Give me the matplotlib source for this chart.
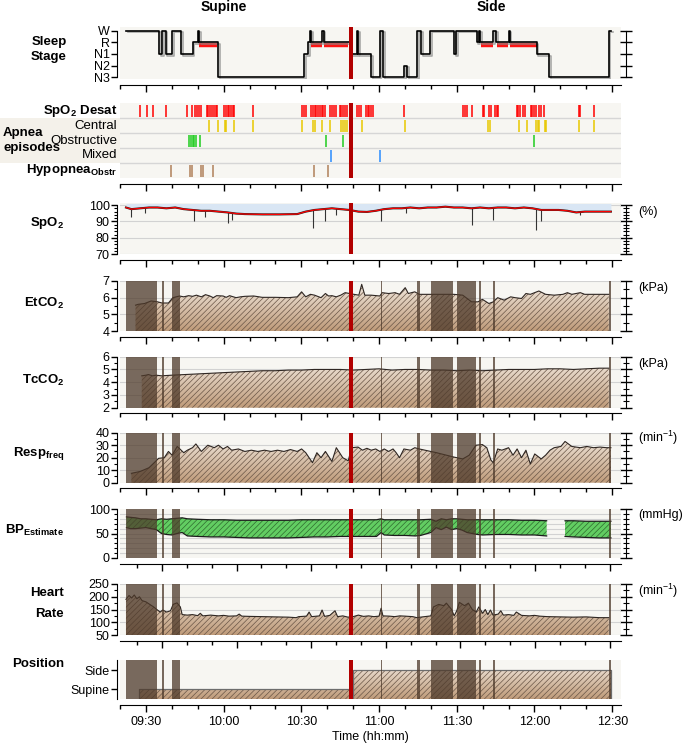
import numpy as np
import matplotlib.pyplot as plt
from matplotlib.colors import LinearSegmentedColormap
from matplotlib.path import Path
from matplotlib.patches import Rectangle
import matplotlib.patheffects as pe

plt.rcParams['font.family'] = ['Liberation Sans', 'DejaVu Sans']
plt.rcParams['mathtext.fontset'] = 'custom'
plt.rcParams['mathtext.rm'] = 'Liberation Sans'
plt.rcParams['mathtext.bf'] = 'Liberation Sans:bold'
plt.rcParams['mathtext.it'] = 'Liberation Sans:italic'
plt.rcParams['hatch.linewidth'] = 0.5

# ---- data (time = minutes after 09:00) ----
sleep_t = [22.3, 35.0, 36.2, 37.6, 40.1, 43.5, 48.0, 50.0, 50.5, 57.8, 91.2, 92.6, 93.4, 93.8,
           98.1, 98.6, 109.1, 111.6, 112.0, 117.0, 120.3, 121.7, 129.6, 130.8, 134.6, 136.3,
           139.7, 148.9, 149.8, 157.7, 158.5, 159.0, 164.1, 165.3, 170.0, 170.4, 180.9, 185.6,
           208.7, 209.5]
sleep_stage = [4, 2, 4, 2, 4, 2, 3, 4, 3, 0, 2, 3, 4, 3, 4, 3, 2, 4, 2, 0, 4, 0, 1, 0, 4, 2,
               4, 2, 4, 3, 4, 3, 4, 3, 4, 3, 2, 0, 4, 4]
stage_names = ['N3', 'N2', 'N1', 'R', 'W']
rem_red = [(50.5, 57.6), (93.8, 98.1), (98.6, 108.1), (159.5, 164.1), (165.5, 169.7), (170.4, 180.9)]

desat_t = [27.8, 30.3, 32.9, 37.6, 46.0, 47.7, 48.8, 49.7, 50.5, 51.4, 53.4, 54.1, 54.7, 55.4,
           56.1, 56.9, 57.6, 60.1, 60.8, 61.5, 62.1, 62.8, 63.5, 64.2, 71.2, 90.4, 91.2, 91.7,
           93.8, 94.4, 95.1, 95.8, 96.5, 97.1, 97.8, 98.5, 99.3, 101.2, 101.8, 102.7, 103.5,
           104.9, 105.5, 106.2, 106.9, 107.7, 111.6, 112.3, 112.9, 115.0, 115.6, 116.3, 117.0,
           117.5, 129.6, 152.6, 153.3, 154.0, 156.0, 160.0, 160.7, 162.4, 163.1, 164.6, 165.4,
           166.1, 173.2, 173.8, 174.5, 175.5, 176.5, 178.6, 179.2, 179.9, 180.6, 181.6, 182.6,
           183.6, 197.1, 197.7, 203.1]
central_t = [54.4, 57.8, 60.5, 61.1, 64.0, 71.2, 90.1, 94.4, 95.4, 97.8, 101.0, 105.2, 106.0,
             106.9, 107.7, 113.3, 130.1, 162.1, 162.7, 174.2, 177.2, 180.6, 181.2, 181.9, 183.9,
             184.6, 197.1, 203.1]
obstructive_t = [46.7, 47.3, 48.0, 48.7, 49.3, 50.7, 99.5, 105.9, 179.7]
mixed_t = [101.3, 120.3]
hypopnea_t = [39.6, 47.0, 47.7, 51.4, 52.1, 55.9, 94.8, 100.2]

artifact_spans = [(22.3, 34.2), (36.2, 36.9), (40.1, 43.3), (120.6, 121.0), (134.6, 135.8),
                  (140.2, 148.4), (150.1, 157.4), (158.5, 159.4), (164.1, 164.9), (208.7, 209.5)]
marker_span = (108.4, 109.8)

spo2_t = [22.3, 24.4, 27.8, 31.2, 34.5, 37.9, 41.3, 44.6, 48.0, 51.4, 54.7, 58.1, 61.5, 64.8,
          68.2, 74.9, 81.7, 88.4, 91.7, 95.1, 98.5, 101.8, 105.2, 108.6, 112.0, 115.3, 118.7,
          122.0, 125.4, 128.8, 132.1, 135.5, 138.8, 142.2, 145.6, 148.9, 152.3, 155.7, 159.0,
          162.4, 165.8, 169.1, 172.5, 175.9, 179.2, 182.6, 186.0, 189.3, 192.7, 196.1, 199.4,
          202.8, 206.2, 209.5]
spo2_v = [98.5, 97.5, 98.0, 98.5, 98.5, 98.0, 98.5, 97.5, 97.0, 96.5, 96.5, 96.0, 95.5, 94.8,
          94.5, 94.3, 94.3, 94.5, 96.0, 97.0, 97.5, 98.0, 97.5, 97.0, 96.0, 95.8, 96.5, 97.5,
          98.0, 98.0, 98.5, 98.0, 98.5, 98.5, 99.0, 98.5, 98.5, 98.0, 98.5, 98.0, 98.5, 98.5,
          98.0, 98.5, 98.0, 97.0, 97.0, 97.0, 96.5, 95.5, 96.0, 96.0, 96.0, 96.0]
spo2_dip_t = [24.4, 29.5, 48.5, 53.0, 61.5, 63.1, 94.4, 99.3, 103.5, 120.8, 130.4, 155.7,
              164.1, 180.6, 182.6, 197.7]
spo2_dip_lo = [93, 95, 90, 93, 89, 91, 86, 90, 94, 90, 95, 88, 91, 85, 90, 94]
spo2_dip_hi = [97.5, 98.5, 97, 96.5, 95.5, 95, 97, 97.5, 98, 97.5, 98, 98, 98, 98, 97, 96]

etco2_t = [26.0, 27.0, 29.5, 32.0, 34.5, 36.2, 38.7, 40.4, 43.0, 44.6, 46.5, 48.0, 49.5, 51.4,
           53.0, 54.7, 56.0, 57.3, 59.8, 61.0, 62.3, 64.8, 66.5, 68.2, 71.6, 74.9, 80.0, 85.0,
           88.4, 90.1, 91.7, 93.5, 95.1, 97.6, 99.3, 100.5, 101.8, 103.5, 105.2, 106.9, 108.6,
           110.3, 112.2, 113.3, 114.5, 117.0, 120.3, 121.2, 123.7, 126.2, 127.9, 130.1, 131.3,
           133.8, 135.5, 138.8, 143.9, 148.9, 152.3, 155.7, 158.2, 159.9, 162.4, 164.1, 165.8,
           168.3, 170.8, 172.5, 175.0, 176.7, 178.4, 181.7, 184.3, 187.6, 191.0, 192.7, 194.4,
           197.7, 199.4, 204.5, 208.7]
etco2_v = [5.55, 5.6, 5.65, 5.8, 5.75, 5.68, 5.68, 6.0, 6.1, 6.05, 6.12, 6.08, 6.15, 6.05,
           6.18, 6.1, 6.0, 6.12, 6.1, 6.02, 6.12, 6.0, 6.05, 6.08, 6.1, 6.02, 6.02, 6.0,
           6.05, 6.35, 6.05, 6.2, 6.15, 6.0, 6.25, 6.1, 6.12, 6.05, 6.15, 6.3, 6.25,
           6.2, 6.15, 6.8, 6.15, 6.15, 6.1, 6.3, 6.25, 6.3, 6.2, 6.6, 6.25,
           6.35, 6.2, 6.2, 6.2, 6.2, 6.15, 5.75, 5.75, 5.9, 5.65, 5.75, 6.0,
           5.85, 6.05, 6.0, 5.95, 6.25, 6.2, 6.4, 6.2, 6.15, 6.2, 6.3, 6.2,
           6.3, 6.2, 6.2, 6.2]

tcco2_t = [28.4, 30, 31, 32.5, 34, 36, 40, 45, 50, 55, 60, 65, 70, 75, 80, 85, 90, 95, 100,
           105, 110, 115, 120, 125, 130, 135, 140, 145, 150, 155, 160, 165, 170, 175, 180, 185,
           190, 195, 200, 205, 208.7]
tcco2_v = [4.5, 4.55, 4.6, 4.5, 4.55, 4.5, 4.55, 4.6, 4.65, 4.7, 4.75, 4.8, 4.85, 4.9, 4.9,
           4.95, 4.95, 5.0, 5.0, 5.0, 4.95, 5.0, 5.05, 4.95, 5.0, 5.0, 4.95, 4.95, 4.9, 4.95,
           4.9, 4.95, 5.0, 5.0, 5.0, 5.05, 5.05, 5.0, 5.05, 5.1, 5.1]

resp_t = [24.4, 27.8, 31.2, 33.7, 34.9, 37.1, 38.7, 40.1, 42.1, 44.6, 46.0, 48.0, 49.3, 51.4,
          53.9, 56.4, 58.0, 59.8, 61.5, 63.1, 65.7, 68.2, 70.7, 73.2, 75.8, 78.3, 80.8, 83.3,
          85.8, 88.4, 90.1, 91.7, 94.3, 96.0, 97.6, 99.3, 101.8, 103.5, 106.0, 108.1, 109.4,
          111.9, 113.6, 115.3, 117.0, 118.7, 120.3, 122.0, 123.7, 125.4, 126.6, 127.9, 129.6,
          132.1, 133.8, 135.5, 142.2, 148.9, 152.3, 154.8, 157.4, 159.9, 161.6, 163.2, 164.1,
          165.8, 167.4, 170.0, 171.7, 173.3, 175.0, 176.7, 178.4, 180.1, 182.6, 184.3, 186.0,
          187.6, 190.2, 191.8, 194.4, 197.7, 200.2, 202.8, 205.3, 207.8, 209.5]
resp_v = [7.5, 9, 12, 17, 19.5, 20, 25, 22, 29, 24, 26, 28, 31, 25,
          30, 28, 30, 27, 29, 26, 27, 25, 26, 25, 26, 25, 26, 25,
          26.5, 25, 27, 24, 16, 24, 20, 25, 17, 28, 20, 17.5, 28,
          28.5, 26, 27.5, 26, 27, 25, 27, 25, 27, 24, 20, 27,
          26, 28, 27, 24, 20.5, 19, 22, 30, 30.5, 28, 18, 16,
          27, 26, 28, 22, 27, 20, 26, 15, 23, 19, 22, 26,
          28, 29, 33, 29, 28, 29, 28, 28.5, 28, 28]

bp_t = [22.5, 24, 26, 28, 30, 32, 34, 36, 38, 40, 42, 44, 46, 50, 55, 60, 65, 70, 75, 80,
        85, 90, 95, 100, 105, 110, 115, 119, 120.8, 122, 126, 130, 134, 136, 140, 142, 144,
        146, 148, 150, 152, 154, 156, 158, 160, 165, 170, 175, 180, 184.7, 188, 191.8, 195,
        200, 205, 209.5]
bp_sys = [84, 83, 82, 80, 80, 79, 78, 80, 79, 80, 81, 82, 80, 79, 78, 78, 77, 77, 77, 77,
          77, 78, 78, 78, 78, 78, 78, 78, 80, 78, 78, 78, 78, 78, 79, 75, 80, 78, 80, 80,
          79, 78, 78, 78, 78, 78, 78, 77, 77, 76, np.nan, 76, 76, 75, 75, 75]
bp_dia = [62, 60, 60, 61, 62, 60, 58, 50, 48, 47, 50, 52, 45, 44, 43, 43, 42, 41, 41, 41,
          41, 42, 43, 43, 44, 44, 44, 44, 52, 47, 46, 46, 45, 46, 52, 62, 58, 63, 58, 60,
          57, 52, 50, 48, 47, 48, 48, 47, 47, 45, np.nan, 44, 43, 42, 41, 41]

hr_t = [22.3, 23.5, 24.5, 25.5, 26.5, 27.5, 28.5, 30, 31.5, 33, 34.2, 35.5, 36.5, 38, 39.5,
        40.5, 42, 43.3, 44, 46, 48, 50, 51, 52, 55, 58, 60, 62, 65, 66, 67, 70, 75, 80, 85,
        88, 89, 92, 93, 94, 97, 98, 99, 101, 103, 104, 106, 108, 110, 112, 114, 116, 118,
        120, 120.8, 121.5, 124, 126, 128, 130, 133, 134.6, 136, 140, 141, 143, 145, 146, 148,
        149, 150, 151, 153, 154.5, 156, 157.5, 158.5, 160, 161, 162, 163, 164, 166, 167, 168,
        170, 172, 173, 175, 178, 180, 182, 185, 190, 195, 200, 205, 208.7]
hr_v = [190, 205, 195, 207, 192, 200, 185, 180, 170, 160, 150, 140, 148, 140, 145,
        170, 176, 160, 130, 128, 130, 126, 135, 125, 128, 125, 127, 124, 125, 132, 124, 123, 122, 121, 120,
        118, 122, 124, 140, 122, 125, 148, 123, 127, 145, 122, 125, 120, 122, 128, 123, 125, 122,
        124, 155, 125, 124, 122, 125, 124, 122, 118, 120, 125, 160, 170, 165, 175, 150,
        125, 145, 178, 165, 175, 150, 140, 160, 135, 150, 130, 148, 128, 132, 145, 128,
        130, 127, 140, 127, 125, 127, 124, 122, 121, 120, 121, 118, 118]

position_spans = [(27.3, 108.6, 1), (109.9, 209.5, 2)]

# ---- style ----
BG = '#f7f6f2'
GRID = '#d2d2d2'
ART = '#4e3a2b'
MARK = '#b20000'
LINE = '#2e2622'
HATCH = '#6a5647'
tan_cmap = LinearSegmentedColormap.from_list('tan', ['#bf9b7a', '#f4ede4'])
FS = 9

FW, FH = 685, 748
fig = plt.figure(figsize=(FW / 100, FH / 100), dpi=100)
XL, XR = 120, 621
TMIN, TMAX = 20, 213.4

maj_t = [30, 60, 90, 120, 150, 180, 210]
min_t = [20, 40, 50, 70, 80, 100, 110, 130, 140, 160, 170, 190, 200]
maj_lab = ['09:30', '10:00', '10:30', '11:00', '11:30', '12:00', '12:30']


def panel(top, bottom):
    ax = fig.add_axes([XL / FW, 1 - bottom / FH, (XR - XL) / FW, (bottom - top) / FH])
    ax.set_facecolor(BG)
    ax.set_xlim(TMIN, TMAX)
    ax.spines['top'].set_visible(False)
    ax.spines['right'].set_visible(False)
    ax.spines['bottom'].set_position(('outward', 4))
    ax.spines['left'].set_position(('outward', 2))
    return ax


def time_axis(ax, labels=False, shifted=False):
    mj, mn = np.array(maj_t, float), np.array(min_t, float)
    if shifted:  # BP / HR panels carry a slightly compressed tick scale
        mj = 36.2 + (mj - 30) * 0.96
        mn = 36.2 + (mn - 30) * 0.96
    ax.set_xticks(mj)
    ax.set_xticks(mn, minor=True)
    ax.set_xticklabels(maj_lab if labels else [])
    ax.tick_params(axis='x', which='major', length=5, width=1, labelsize=FS)
    ax.tick_params(axis='x', which='minor', length=3, width=1)
    ax.set_xlim(TMIN, TMAX)


def value_axis(ax, lo, hi, major, minor, grid=None, ladder=True, lims=None):
    ax.set_ylim(*(lims or (lo, hi)))
    ax.set_yticks(major)
    ax.set_yticks(minor, minor=True)
    ax.tick_params(axis='y', which='major', length=4, width=1, labelsize=FS, pad=1.5)
    ax.tick_params(axis='y', which='minor', length=2.5, width=0.8)
    for g in (grid if grid is not None else major):
        ax.axhline(g, color=GRID, lw=0.8, zorder=0.5)
    if ladder:
        sec = ax.secondary_yaxis(1.01)
        sec.set_ticks(major)
        sec.set_ticks(minor, minor=True)
        sec.tick_params(which='major', direction='inout', length=9, width=1, labelright=False)
        sec.tick_params(which='minor', direction='inout', length=5, width=0.8)
        sec.spines['right'].set_bounds(lo, hi)
    ax.spines['left'].set_bounds(lo, hi)


def hatched_fill(ax, t, v, base):
    lo, hi = ax.get_ylim()
    shape = ax.fill_between(t, v, base, facecolor='none', edgecolor='none', lw=0)
    grad = np.linspace(0, 1, 128).reshape(-1, 1)
    img = ax.imshow(grad, cmap=tan_cmap, origin='lower', aspect='auto',
                    extent=(TMIN, TMAX, lo, hi), zorder=1, interpolation='bilinear')
    img.set_clip_path(Path.make_compound_path(*shape.get_paths()), ax.transData)
    ax.fill_between(t, v, base, facecolor='none', edgecolor=HATCH, hatch='//////', lw=0, zorder=1.5)
    ax.set_xlim(TMIN, TMAX)
    ax.set_ylim(lo, hi)


def artifacts(ax):
    for a, b in artifact_spans:
        ax.axvspan(a, b, color=ART, alpha=0.75, lw=0, zorder=3)


def marker(ax):
    ax.axvspan(*marker_span, color=MARK, lw=0, zorder=6)


def side_label(lines, ys, x=64):
    for s, y in zip(lines, ys):
        fig.text(x / FW, 1 - y / FH, s, ha='right', va='center', fontsize=9.5, fontweight='bold')


def unit_label(s, y):
    fig.text(638 / FW, 1 - y / FH, s, ha='left', va='center', fontsize=FS)


# titles
fig.text(224 / FW, 1 - 7 / FH, 'Supine', ha='center', va='center', fontsize=10, fontweight='bold')
fig.text(491 / FW, 1 - 7 / FH, 'Side', ha='center', va='center', fontsize=10, fontweight='bold')

# ---- sleep stage ----
ax = panel(27, 79)
value_axis(ax, 0, 4, [0, 1, 2, 3, 4], [], grid=[], lims=(-0.15, 4.32))
ax.set_yticklabels(stage_names)
ax.step(sleep_t, sleep_stage, where='post', color='k', lw=1.2, zorder=4,
        path_effects=[pe.SimpleLineShadow(offset=(1.2, -1.2), shadow_color='#888888', alpha=0.7),
                      pe.Normal()])
for a, b in rem_red:
    ax.plot([a, b], [2.8, 2.8], color='#ff1414', lw=3.2, solid_capstyle='butt', zorder=3)
marker(ax)
time_axis(ax)
side_label(['Sleep', 'Stage'], [42, 57], x=67)

# ---- apnea episodes ----
fig.patches.append(Rectangle((0, 1 - 163 / FH), 120 / FW, 45 / FH, transform=fig.transFigure,
                             facecolor='#f4f1ea', edgecolor='none', zorder=-5))
ax = panel(103, 178)
ax.set_ylim(0, 5)
ax.set_yticks([])
ax.spines['left'].set_visible(False)
for k in range(1, 5):
    ax.axhline(k, color='#d6d6d6', lw=1, zorder=1)
rows = [(desat_t, '#ff0000', r'SpO$_\mathbf{2}$ Desat', 'bold'),
        (central_t, '#e8c800', 'Central', 'normal'),
        (obstructive_t, '#1fcc1f', 'Obstructive', 'normal'),
        (mixed_t, '#2a8cff', 'Mixed', 'normal'),
        (hypopnea_t, '#b0805a', r'Hypopnea$_\mathbf{Obstr}$', 'bold')]
for i, (ev, col, name, w) in enumerate(rows):
    y = 4 - i
    ax.vlines(ev, y + 0.1, y + 0.9, color=col, lw=1.1, zorder=2)
    ax.text(-0.006, y + 0.5, name, transform=ax.get_yaxis_transform(), ha='right',
            va='center', fontsize=9.5, fontweight=w)
marker(ax)
time_axis(ax)
fig.text(3 / FW, 1 - 133 / FH, 'Apnea', ha='left', va='center', fontsize=9.5, fontweight='bold')
fig.text(3 / FW, 1 - 148 / FH, 'episodes', ha='left', va='center', fontsize=9.5, fontweight='bold')

# ---- SpO2 ----
ax = panel(203.4, 254.3)
value_axis(ax, 70, 100, [70, 80, 90, 100], list(range(70, 101, 2)), lims=(70, 101))
ax.fill_between(spo2_t, spo2_v, 101, color='#d9e6f4', lw=0, zorder=1)
ax.vlines(spo2_dip_t, spo2_dip_lo, spo2_dip_hi, color='#333333', lw=0.8, zorder=2)
ax.plot(spo2_t, spo2_v, color='#222222', lw=1.5, zorder=2)
ax.plot(spo2_t, spo2_v, color='#ff0000', lw=0.9, zorder=2.5)
marker(ax)
time_axis(ax)
side_label([r'SpO$_\mathbf{2}$'], [223])
unit_label('(%)', 212)

# ---- EtCO2 ----
ax = panel(281, 331)
value_axis(ax, 4, 7, [4, 5, 6, 7], [4.5, 5.5, 6.5])
hatched_fill(ax, etco2_t, etco2_v, 4)
ax.plot(etco2_t, etco2_v, color=LINE, lw=0.8, zorder=2)
artifacts(ax)
marker(ax)
time_axis(ax)
side_label([r'EtCO$_\mathbf{2}$'], [303])
unit_label('(kPa)', 288)

# ---- TcCO2 ----
ax = panel(356.7, 407.7)
value_axis(ax, 2, 6, [2, 3, 4, 5, 6], [2.5, 3.5, 4.5, 5.5])
hatched_fill(ax, tcco2_t, tcco2_v, 2)
ax.plot(tcco2_t, tcco2_v, color=LINE, lw=0.8, zorder=2)
artifacts(ax)
marker(ax)
time_axis(ax)
side_label([r'TcCO$_\mathbf{2}$'], [380])
unit_label('(kPa)', 364)

# ---- Resp freq ----
ax = panel(432.7, 482.7)
value_axis(ax, 0, 40, [0, 10, 20, 30, 40], [5, 15, 25, 35])
hatched_fill(ax, resp_t, resp_v, 0)
ax.plot(resp_t, resp_v, color=LINE, lw=0.8, zorder=2)
artifacts(ax)
marker(ax)
time_axis(ax)
side_label([r'Resp$_\mathbf{freq}$'], [454])
unit_label(r'(min$^{\mathrm{-1}}$)', 438)

# ---- BP ----
ax = panel(509, 558)
value_axis(ax, 0, 100, [0, 50, 100], list(range(0, 101, 10)), grid=list(range(10, 100, 10)))
ax.fill_between(bp_t, bp_dia, bp_sys, facecolor='#62cd62', edgecolor='#2e6a2e', hatch='//////',
                lw=0, zorder=1.5)
ax.plot(bp_t, bp_sys, color='#1c1c1c', lw=0.9, zorder=2)
ax.plot(bp_t, bp_dia, color='#1c1c1c', lw=0.9, zorder=2)
artifacts(ax)
marker(ax)
time_axis(ax, shifted=True)
side_label([r'BP$_\mathbf{Estimate}$'], [530])
unit_label('(mmHg)', 515)

# ---- Heart rate ----
ax = panel(584, 635)
value_axis(ax, 50, 250, [50, 100, 150, 200, 250], [75, 125, 175, 225])
hatched_fill(ax, hr_t, hr_v, 50)
ax.plot(hr_t, hr_v, color=LINE, lw=0.8, zorder=2)
artifacts(ax)
marker(ax)
time_axis(ax, shifted=True)
side_label(['Heart', 'Rate'], [593, 614])
unit_label(r'(min$^{\mathrm{-1}}$)', 591)

# ---- Position ----
ax = panel(660, 699)
ax.set_ylim(0.5, 2.52)
ax.set_yticks([1, 2])
ax.set_yticklabels(['Supine', 'Side'])
ax.tick_params(axis='y', length=4, width=1, labelsize=FS, pad=1.5)
for a, b, lvl in position_spans:
    hatched_fill(ax, [a, b], [lvl, lvl], 0.5)
    ax.plot([a, a, b, b], [0.5, lvl, lvl, 0.5], color='#6d6d6d', lw=0.9, zorder=2)
artifacts(ax)
marker(ax)
time_axis(ax, labels=True)
side_label(['Position'], [664])

fig.text(370 / FW, 1 - 737 / FH, 'Time (hh:mm)', ha='center', va='center', fontsize=FS)

fig.savefig('out.png', dpi=100)
